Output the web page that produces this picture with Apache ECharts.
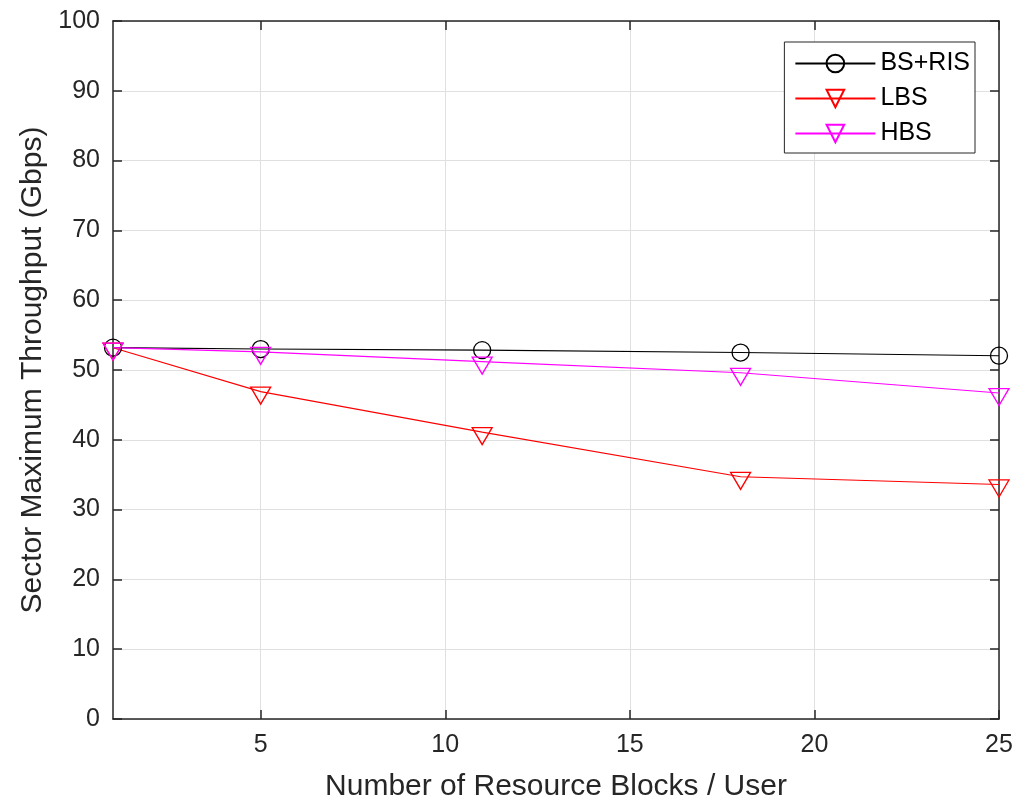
<!DOCTYPE html>
<html><head><meta charset="utf-8">
<script src="https://cdn.jsdelivr.net/npm/echarts@6/dist/echarts.min.js"></script>
<style>html,body{margin:0;padding:0;background:#fff}#c{width:1027px;height:801px}</style>
</head><body><div id="c"></div>
<script>
const xValues = [1, 5, 11, 18, 25];
const bsRis = [53.2, 53.0, 52.85, 52.5, 52.05];
const lbs = [53.2, 46.9, 41.1, 34.7, 33.6];
const hbs = [53.2, 52.6, 51.2, 49.6, 46.7];
const xTicks = [5, 10, 15, 20, 25];
const seriesNames = ['BS+RIS', 'LBS', 'HBS'];

const font = 'Liberation Sans, Arial, Helvetica, sans-serif';
const axisColor = '#262626';
const tri = 'path://M0,0 L20,0 L10,20 Z';

function pairs(arr) { return xValues.map((x, i) => [x, arr[i]]); }

const chart = echarts.init(document.getElementById('c'));
chart.setOption({
  animation: false,
  backgroundColor: '#fff',
  grid: { left: 113, right: 28, top: 21, bottom: 82, show: false, containLabel: false, outerBoundsMode: 'none' },
  legend: {
    right: 52, top: 42,
    orient: 'vertical',
    backgroundColor: '#fff',
    borderColor: '#262626', borderWidth: 1,
    padding: [9, 5, 7, 10],
    itemWidth: 80, itemHeight: 22, itemGap: 10, itemTextGap: 7,
    textStyle: { fontFamily: font, fontSize: 25, color: '#000' },
    data: seriesNames
  },
  xAxis: [{
    type: 'value', min: 1, max: 25,
    name: 'Number of Resource Blocks / User',
    nameLocation: 'middle', nameGap: 53,
    nameTextStyle: { fontFamily: font, fontSize: 30, color: axisColor },
    axisLine: { show: true, lineStyle: { color: axisColor, width: 1.5 } },
    axisTick: { show: true, inside: true, length: 9, customValues: xTicks, lineStyle: { color: axisColor, width: 1.5 } },
    axisLabel: { customValues: xTicks, fontFamily: font, fontSize: 25, color: axisColor, margin: 14 },
    splitLine: { show: true, lineStyle: { color: '#e0e0e0', width: 1 } }
  }, {
    type: 'value', min: 1, max: 25, position: 'top',
    axisLine: { show: true, onZero: false, lineStyle: { color: axisColor, width: 1.5 } },
    axisTick: { show: true, inside: true, length: 9, customValues: xTicks, lineStyle: { color: axisColor, width: 1.5 } },
    axisLabel: { show: false },
    splitLine: { show: false }
  }],
  yAxis: [{
    type: 'value', min: 0, max: 100, interval: 10,
    name: 'Sector Maximum Throughput (Gbps)',
    nameLocation: 'middle', nameGap: 63,
    nameTextStyle: { fontFamily: font, fontSize: 30, color: axisColor },
    axisLine: { show: true, lineStyle: { color: axisColor, width: 1.5 } },
    axisTick: { show: true, inside: true, length: 9, lineStyle: { color: axisColor, width: 1.5 } },
    axisLabel: { fontFamily: font, fontSize: 25, color: axisColor, margin: 13 },
    splitLine: { show: true, lineStyle: { color: '#e0e0e0', width: 1 } }
  }, {
    type: 'value', min: 0, max: 100, interval: 10, position: 'right',
    axisLine: { show: true, onZero: false, lineStyle: { color: axisColor, width: 1.5 } },
    axisTick: { show: true, inside: true, length: 9, lineStyle: { color: axisColor, width: 1.5 } },
    axisLabel: { show: false },
    splitLine: { show: false }
  }],
  series: [{
    name: seriesNames[0], type: 'line', data: pairs(bsRis),
    symbol: 'circle', symbolSize: 17, showAllSymbol: true,
    lineStyle: { color: '#000', width: 1.1 },
    itemStyle: { color: 'transparent', borderColor: '#000', borderWidth: 1.3 }
  }, {
    name: seriesNames[1], type: 'line', data: pairs(lbs),
    symbol: tri, symbolSize: [20, 17], symbolOffset: [0, 4],
    lineStyle: { color: '#ff0000', width: 1.1 },
    itemStyle: { color: 'transparent', borderColor: '#ff0000', borderWidth: 1.3 }
  }, {
    name: seriesNames[2], type: 'line', data: pairs(hbs),
    symbol: tri, symbolSize: [20, 17], symbolOffset: [0, 4],
    lineStyle: { color: '#ff00ff', width: 1.1 },
    itemStyle: { color: 'transparent', borderColor: '#ff00ff', borderWidth: 1.3 }
  }]
});
</script></body></html>
